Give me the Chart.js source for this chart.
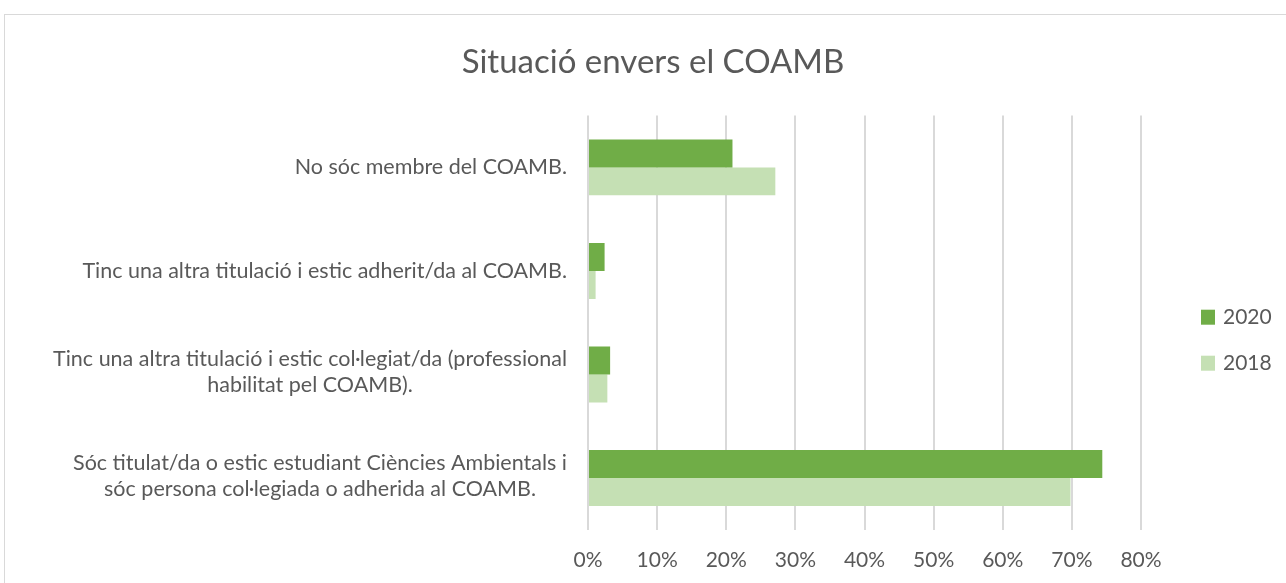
<!DOCTYPE html>
<html>
<head>
<meta charset="utf-8">
<script src="https://cdn.jsdelivr.net/npm/chart.js@4"></script>
<style>
  html, body { margin: 0; padding: 0; background: #fff; overflow: hidden; }
  #marc { position: absolute; left: 4px; top: 14px; width: 1300px; height: 620px; border: 1px solid #d9d9d9; }
  #caixa { position: absolute; left: 0; top: 0; width: 1296px; height: 588px; }
</style>
</head>
<body>
<div id="marc">
  <div id="caixa"><canvas id="grafic"></canvas></div>
</div>
<script>
const categories = [
  ['No sóc membre del COAMB.'],
  ['Tinc una altra titulació i estic adherit/da al COAMB.'],
  ['Tinc una altra titulació i estic col·legiat/da (professional', 'habilitat pel COAMB).'],
  ['Sóc titulat/da o estic estudiant Ciències Ambientals i', 'sóc persona col·legiada o adherida al COAMB.']
]
const anys = ['2020', '2018']
const valors2020 = [20.9, 2.4, 3.2, 74.4]
const valors2018 = [27.1, 1.1, 2.8, 69.8]
const ticksX = ['0%', '10%', '20%', '30%', '40%', '50%', '60%', '70%', '80%']

const colors = ['#70ad47', '#c5e0b4']
const grisText = '#595959'
const font = 'Lato'

// etiquetes de l'eix vertical: bloc alineat a la dreta, línies centrades entre elles
const etiquetesY = {
  id: 'etiquetesY',
  afterDraw(chart) {
    const ctx = chart.ctx
    const y = chart.scales.y
    const dreta = chart.chartArea.left - 21
    const alt = 26
    ctx.save()
    ctx.font = '21.5px ' + font
    ctx.fillStyle = grisText
    ctx.textAlign = 'center'
    ctx.textBaseline = 'middle'
    categories.forEach((linies, i) => {
      const w = Math.max(...linies.map(l => ctx.measureText(l).width))
      const cx = dreta - w / 2
      const cy = y.getPixelForValue(i) - (linies.length - 1) * alt / 2 - (linies.length - 1) * 2
      linies.forEach((l, j) => ctx.fillText(l, cx, cy + j * alt))
    })
    ctx.restore()
  }
}

// llegenda a la dreta
const llegenda = {
  id: 'llegenda',
  afterDraw(chart) {
    const ctx = chart.ctx
    const area = chart.chartArea
    const mig = (area.top + area.bottom) / 2 + 17
    const x = area.right + 60
    ctx.save()
    ctx.font = '21px ' + font
    ctx.textBaseline = 'middle'
    chart.data.datasets.forEach((ds, i) => {
      const cy = mig + (i - 0.5) * 46
      ctx.fillStyle = ds.backgroundColor
      ctx.fillRect(x, cy - 7, 14, 15)
      ctx.fillStyle = grisText
      ctx.fillText(ds.label, x + 22, cy + 1)
    })
    ctx.restore()
  }
}

new Chart(document.getElementById('grafic'), {
  type: 'bar',
  data: {
    labels: categories.map(c => c.join(' ')),
    datasets: [
      { label: anys[0], data: valors2020, backgroundColor: colors[0] },
      { label: anys[1], data: valors2018, backgroundColor: colors[1] }
    ]
  },
  options: {
    indexAxis: 'y',
    responsive: true,
    maintainAspectRatio: false,
    animation: false,
    layout: { padding: { left: 0, right: 0, top: 0, bottom: 12 } },
    datasets: { bar: { categoryPercentage: 0.54, barPercentage: 1 } },
    plugins: {
      legend: { display: false },
      tooltip: { enabled: false },
      title: {
        display: true,
        text: 'Situació envers el COAMB',
        color: grisText,
        font: { family: font, size: 33, weight: 'normal' },
        padding: { top: 28, bottom: 33 }
      }
    },
    scales: {
      x: {
        min: 0,
        max: 80,
        grid: { color: '#d9d9d9', lineWidth: 2, drawTicks: false },
        border: { display: false },
        ticks: {
          stepSize: 10,
          padding: 18,
          color: grisText,
          font: { family: font, size: 21 },
          callback: (v, i) => ticksX[i]
        }
      },
      y: {
        grid: { display: false },
        border: { display: false },
        ticks: { display: false },
        afterFit: s => { s.width = 583 }
      },
      espai: {
        type: 'category',
        position: 'right',
        axis: 'y',
        grid: { display: false },
        border: { display: false },
        ticks: { display: false },
        afterFit: s => { s.width = 160 }
      }
    }
  },
  plugins: [etiquetesY, llegenda]
})
</script>
</body>
</html>
